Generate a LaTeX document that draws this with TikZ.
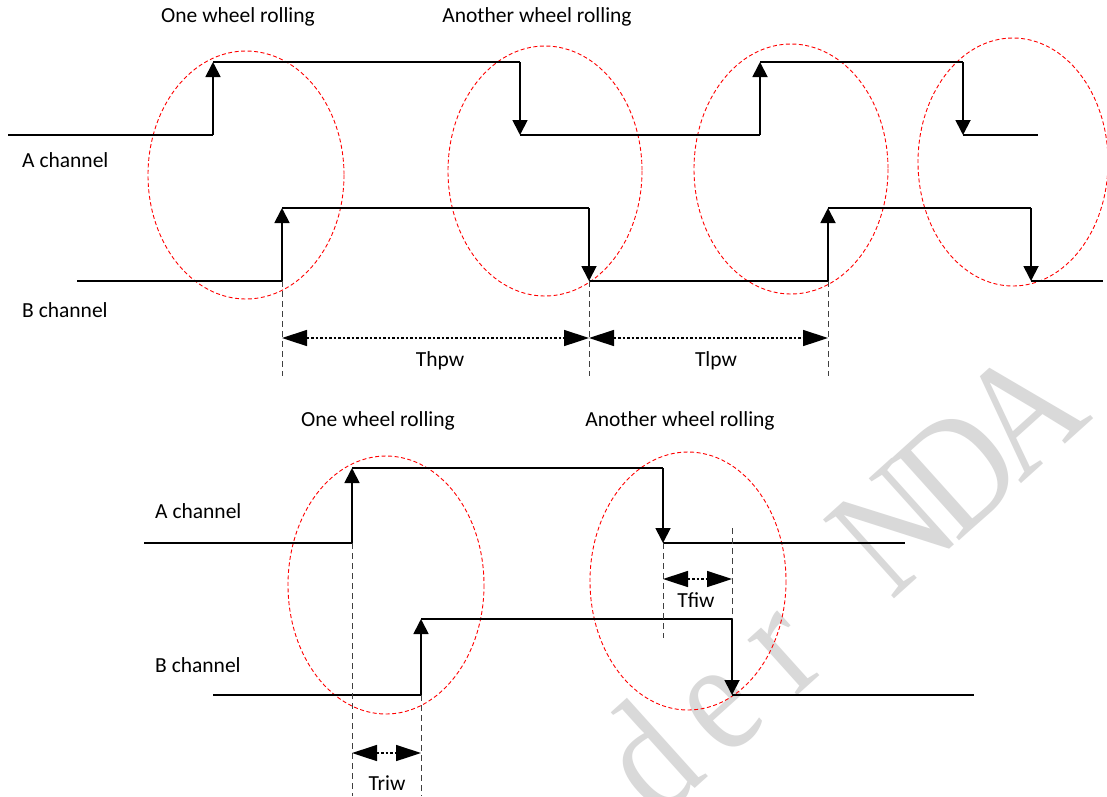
\documentclass[tikz,border=0pt]{standalone}
\usepackage{fontspec}
\setmainfont{Carlito}
\newfontfamily\wmfont{Liberation Serif}
\usetikzlibrary{arrows.meta}
\newcommand{\wmglyph}[1]{\scalebox{0.85}[1]{#1}}
\begin{document}
\begin{tikzpicture}[x=1pt,y=-1pt,
  sig/.style={line width=1.8pt},
  edge/.style={line width=1.8pt,-{Triangle[length=15pt,width=15pt]}},
  wheel/.style={draw=red,line width=0.9pt,dash pattern=on 4pt off 2.5pt},
  guide/.style={draw=black!75,line width=1pt,dash pattern=on 6pt off 4pt},
  dim/.style={line width=1.5pt,dash pattern=on 2.5pt off 2pt,{Triangle[length=25pt,width=16pt]}-{Triangle[length=25pt,width=16pt]}},
  lbl/.style={inner sep=0pt,font=\fontsize{21.5}{25}\selectfont},
  wmk/.style={rotate=42, anchor=base, text=black!15, inner sep=0pt, font=\wmfont\fontsize{162}{162}\selectfont},
]
\useasboundingbox (0,0) rectangle (1107,796);
\fill[white] (0,0) rectangle (1107,796);
% watermark (letters spaced as in the reference)
\node[wmk] (w1) at (684,798) {\wmglyph{d}};
\node[wmk] (w2) at (748,740) {\wmglyph{e}};
\node[wmk] (w3) at (813,682) {\wmglyph{r}};
\node[wmk] (w4) at (928,568) {\wmglyph{N}};
\node[wmk] (w5) at (993,510) {\wmglyph{D}};
\node[wmk] (w6) at (1057,451) {\wmglyph{A}};

% ellipses
\draw[wheel] (246,175) ellipse [x radius=98, y radius=124];
\draw[wheel] (545,171) ellipse [x radius=97, y radius=125];
\draw[wheel] (791,169) ellipse [x radius=97, y radius=125];
\draw[wheel] (1013,162) ellipse [x radius=95, y radius=124];
\draw[wheel] (386,585) ellipse [x radius=98, y radius=129];
\draw[wheel] (688,581) ellipse [x radius=98, y radius=129];

% labels
\node[lbl,anchor=base] (t1) at (238,22) {One wheel rolling};
\node[lbl,anchor=base] (t2) at (537,22) {Another wheel rolling};
\node[lbl,anchor=base west] (ta) at (22,167) {A channel};
\node[lbl,anchor=base west] (tb) at (22,317) {B channel};
\node[lbl,anchor=base] (thpw) at (440,366) {Thpw};
\node[lbl,anchor=base] (tlpw) at (716,366) {Tlpw};
\node[lbl,anchor=base] (b1) at (378,426) {One wheel rolling};
\node[lbl,anchor=base] (b2) at (680,426) {Another wheel rolling};
\node[lbl,anchor=base west] (ba) at (155,518) {A channel};
\node[lbl,anchor=base west] (bb) at (155,672) {B channel};
\node[lbl,anchor=base] (triw) at (387,790) {Triw};
\node[lbl,anchor=base] (tfiw) at (696,607) {Tfiw};

% top A channel
\draw[sig] (8,135) -- (213,135);
\draw[edge] (213,135) -- (213,62);
\draw[sig] (213,62) -- (520,62);
\draw[edge] (520,62) -- (520,135);
\draw[sig] (520,135) -- (760,135);
\draw[edge] (760,135) -- (760,62);
\draw[sig] (760,62) -- (963,62);
\draw[edge] (963,62) -- (963,135);
\draw[sig] (963,135) -- (1038,135);
% top B channel
\draw[sig] (77,281) -- (282,281);
\draw[edge] (282,281) -- (282,208);
\draw[sig] (282,208) -- (589,208);
\draw[edge] (589,208) -- (589,281);
\draw[sig] (589,281) -- (828,281);
\draw[edge] (828,281) -- (828,208);
\draw[sig] (828,208) -- (1031,208);
\draw[edge] (1031,208) -- (1031,281);
\draw[sig] (1031,281) -- (1103,281);
% top guides and dimensions
\coordinate (g1) at (282,338);
\coordinate (g2) at (589,338);
\coordinate (g3) at (828,338);
\draw[guide] (282,281) -- (282,376);
\draw[guide] (589,281) -- (589,376);
\draw[guide] (828,281) -- (828,376);
\draw[dim] (g1) -- (g2);
\draw[dim] (g2) -- (g3);

% bottom A channel
\draw[sig] (144,543) -- (352,543);
\draw[edge] (352,543) -- (352,468);
\draw[sig] (352,468) -- (663,468);
\draw[edge] (663,468) -- (663,543);
\draw[sig] (663,543) -- (905,543);
% bottom B channel
\draw[sig] (213,695) -- (421,695);
\draw[edge] (421,695) -- (421,619);
\draw[sig] (421,619) -- (732,619);
\draw[edge] (732,619) -- (732,695);
\draw[sig] (732,695) -- (974,695);
% bottom guides and dimensions
\coordinate (h1) at (352,753);
\coordinate (h2) at (421,753);
\coordinate (h3) at (663,579);
\coordinate (h4) at (732,579);
\draw[guide] (352,543) -- (352,796);
\draw[guide] (421,695) -- (421,796);
\draw[guide] (663,543) -- (663,638);
\draw[guide] (732,528) -- (732,619);
\draw[dim] (h1) -- (h2);
\draw[dim] (h3) -- (h4);
\end{tikzpicture}
\end{document}
